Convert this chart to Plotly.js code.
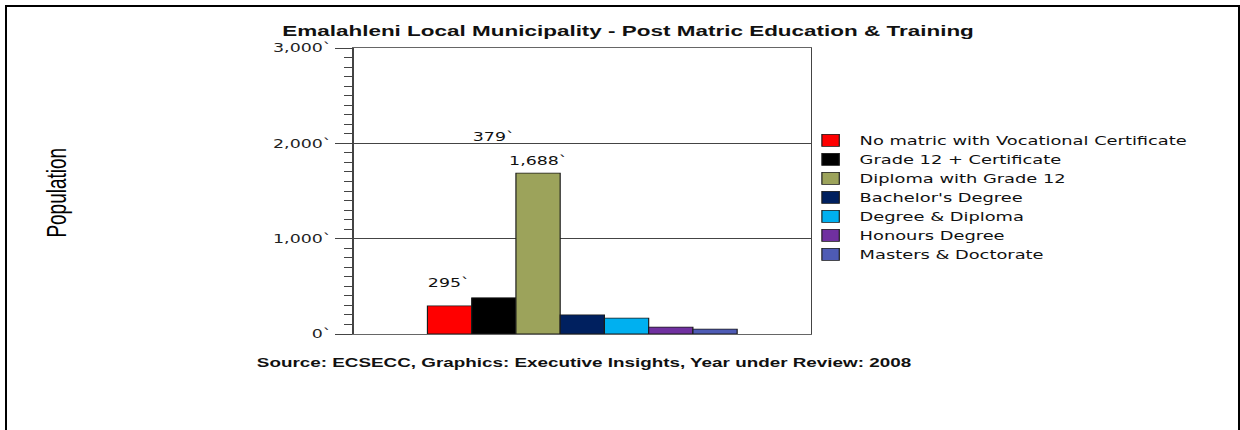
<!DOCTYPE html>
<html>
<head>
<meta charset="utf-8">
<script src="https://cdn.plot.ly/plotly-3.0.1.min.js"></script>
<style>
  html, body { margin: 0; padding: 0; background: #fff; overflow: hidden; }
  #wrap { position: relative; width: 1240px; height: 430px; overflow: hidden; }
  #chart { position: absolute; left: 0; top: 0; width: 855px; height: 430px;
           transform: scaleX(1.4503); transform-origin: 0 0; }
  #frame { position: absolute; left: 5px; top: 5px; width: 1235px; height: 500px; box-sizing: border-box;
           border-left: 2px solid #000; border-top: 2px solid #000; border-right: 2px solid #000;
           pointer-events: none; z-index: 10; }
</style>
</head>
<body>
<div id="wrap">
  <div id="chart"></div>
  <div id="frame"></div>
</div>
<script>
// ---- data ----
const categories = [
  "No matric with Vocational Certificate",
  "Grade 12 + Certificate",
  "Diploma with Grade 12",
  "Bachelor's Degree",
  "Degree & Diploma",
  "Honours Degree",
  "Masters & Doctorate"
];
const values = [295, 379, 1688, 200, 167, 73, 52];
const valueLabels = ["295`", "379`", "1,688`", "", "", "", ""];
const tickValues = [0, 1000, 2000, 3000];
const tickLabels = ["0`", "1,000`", "2,000`", "3,000`"];
const titleText = "Emalahleni Local Municipality - Post Matric Education & Training";
const sourceText = "Source: ECSECC, Graphics: Executive Insights, Year under Review: 2008";
const yTitle = "Population";

// ---- styles ----
const colors = ["#FF0000", "#000000", "#9CA35B", "#00205F", "#00B0F0", "#7030A0", "#4E5BB5"];
const labelLift = [23, 161, 12, 0, 0, 0, 0];
const BARGAP = 0.322;
const VFONT = "DejaVu Sans, Verdana, sans-serif";
const AFONT = "Liberation Sans, Arial, sans-serif";

const traces = categories.map((c, i) => ({
  type: "bar",
  x: [0],
  y: [values[i]],
  name: c,
  marker: { color: colors[i], line: { color: "#1a1a1a", width: 0.8 } },
  hoverinfo: "name+y"
}));

const groupW = 1 - BARGAP;
const barW = groupW / categories.length;
const annotations = [];
valueLabels.forEach((t, i) => {
  if (!t) return;
  annotations.push({
    xref: "x", yref: "y",
    x: -groupW / 2 + (i + 0.5) * barW,
    y: values[i],
    yshift: labelLift[i],
    text: t, showarrow: false,
    xanchor: "center", yanchor: "middle",
    font: { family: VFONT, size: 12, color: "#111" }
  });
});
annotations.push({
  xref: "paper", yref: "paper", x: -0.652, y: 0.493,
  text: yTitle, textangle: -90, showarrow: false,
  xanchor: "center", yanchor: "middle",
  font: { family: AFONT, size: 19, color: "#000" }
});
annotations.push({
  xref: "paper", yref: "paper", x: 0.5025, y: -0.101,
  text: sourceText, showarrow: false,
  xanchor: "center", yanchor: "middle",
  font: { family: AFONT, size: 13, color: "#111", weight: "bold" }
});

const layout = {
  width: 855, height: 430,
  margin: { l: 244, r: 296, t: 48, b: 96, pad: 0 },
  paper_bgcolor: "#ffffff", plot_bgcolor: "#ffffff",
  barmode: "group", bargap: BARGAP, bargroupgap: 0,
  title: {
    text: titleText,
    font: { family: AFONT, size: 15.5, color: "#111", weight: "bold" },
    xref: "container", x: 0.5065, xanchor: "center",
    yref: "container", y: 0.928, yanchor: "middle"
  },
  xaxis: {
    range: [-0.5, 0.5], showticklabels: false, ticks: "", showgrid: false,
    zeroline: false, showline: true, linecolor: "#666", linewidth: 1, mirror: true,
    fixedrange: true
  },
  yaxis: {
    range: [0, 3000], tickmode: "array", tickvals: tickValues, ticktext: tickLabels,
    ticks: "outside", ticklen: 12, tickwidth: 1, tickcolor: "#444",
    showline: true, linecolor: "#444", linewidth: 1, mirror: true,
    showgrid: true, gridcolor: "#444", gridwidth: 1, zeroline: false,
    tickfont: { family: VFONT, size: 12, color: "#222" },
    minor: { dtick: 100, tick0: 0, ticks: "outside", ticklen: 6, tickcolor: "#444", showgrid: false },
    fixedrange: true
  },
  showlegend: true,
  legend: {
    x: 0.980, xanchor: "left", y: 0.728, yanchor: "top",
    font: { family: VFONT, size: 12.3, color: "#111" },
    bgcolor: "rgba(0,0,0,0)", borderwidth: 0, traceorder: "normal"
  },
  annotations: annotations
};

Plotly.newPlot("chart", traces, layout, { displayModeBar: false, staticPlot: true });
</script>
</body>
</html>
